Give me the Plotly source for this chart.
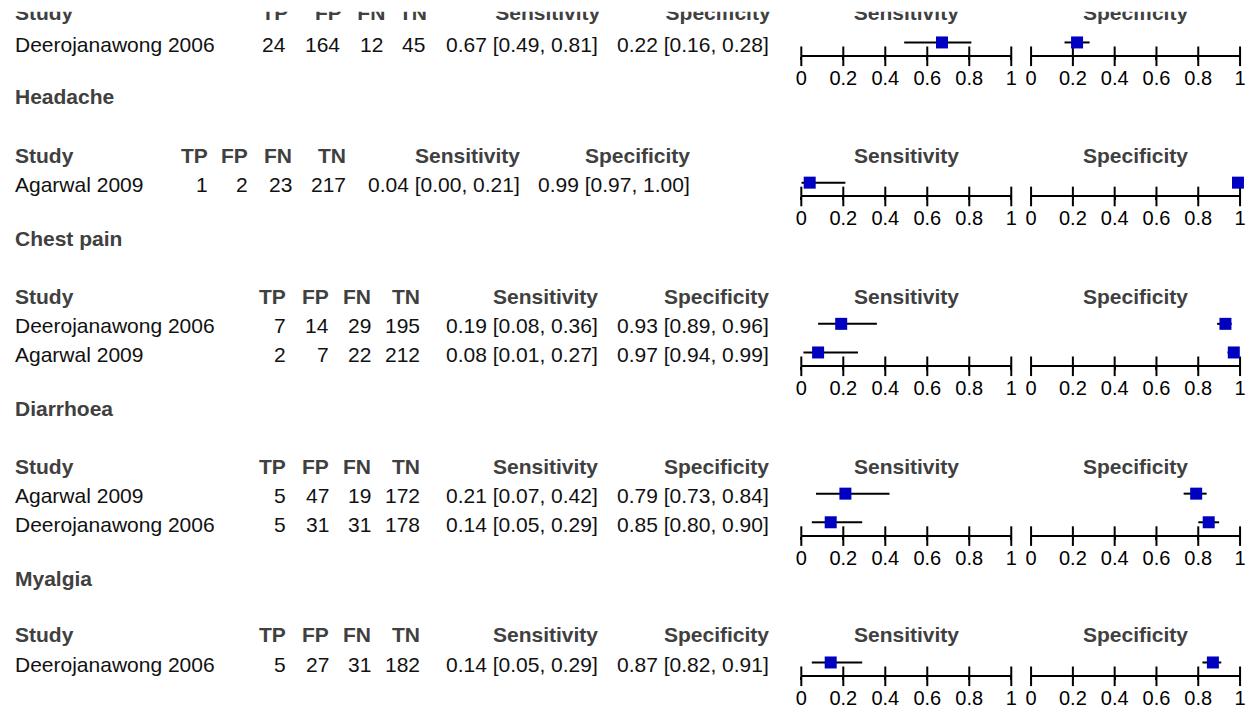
import plotly.graph_objects as go

W, H = 1252, 709

# ---------------- data ----------------
sections = ["", "Headache", "Chest pain", "Diarrhoea", "Myalgia"]
row_block = [0, 1, 2, 2, 3, 3, 4]
study = ["Deerojanawong 2006", "Agarwal 2009", "Deerojanawong 2006", "Agarwal 2009",
         "Agarwal 2009", "Deerojanawong 2006", "Deerojanawong 2006"]
tp = [24, 1, 7, 2, 5, 5, 5]
fp = [164, 2, 14, 7, 47, 31, 27]
fn = [12, 23, 29, 22, 19, 31, 31]
tn = [45, 217, 195, 212, 172, 178, 182]
sens = [0.67, 0.04, 0.19, 0.08, 0.21, 0.14, 0.14]
sens_lo = [0.49, 0.00, 0.08, 0.01, 0.07, 0.05, 0.05]
sens_hi = [0.81, 0.21, 0.36, 0.27, 0.42, 0.29, 0.29]
spec = [0.22, 0.99, 0.93, 0.97, 0.79, 0.85, 0.87]
spec_lo = [0.16, 0.97, 0.89, 0.94, 0.73, 0.80, 0.82]
spec_hi = [0.28, 1.00, 0.96, 0.99, 0.84, 0.90, 0.91]
col_headers = ["TP", "FP", "FN", "TN", "Sensitivity", "Specificity"]
plot_headers = ["Sensitivity", "Specificity"]
tick_vals = [0, 0.2, 0.4, 0.6, 0.8, 1]
tick_text = ["0", "0.2", "0.4", "0.6", "0.8", "1"]

# ---------------- layout constants (pixels) ----------------
HEADER_Y = [15, 157, 300, 472, 643]
TITLE_Y = [None, 98, 242, 414, 586]
ROW_OFF, ROW_PITCH = 30, 29      # text rows below the header
MARK_DY = -2                     # markers sit slightly above the text centre
AXIS_OFF = 14                    # axis line below the last marker
COLS = [
    [285, 339, 383, 425, 600, 772],
    [206, 246, 291, 345, 521, 693],
    [285, 328, 371, 420, 600, 772],
    [285, 328, 371, 420, 600, 772],
    [285, 328, 371, 420, 600, 772],
]
STUDY_X = 7
SENS_DOM = (803, 1015)
SPEC_DOM = (1035, 1246)
FONT = "Liberation Sans, Arial, sans-serif"
FS = 21
HEAD_COL = "#404040"
TXT_COL = "#111111"
BLUE = "#0000C0"

# row positions
text_y = []
counts = {}
for b in row_block:
    k = counts.get(b, 0)
    text_y.append(HEADER_Y[b] + ROW_OFF + k * ROW_PITCH)
    counts[b] = k + 1
mark_y = [y + MARK_DY for y in text_y]
axis_y = []
for b in range(len(sections)):
    ys = [mark_y[i] for i in range(len(mark_y)) if row_block[i] == b]
    axis_y.append(max(ys) + AXIS_OFF)

fig = go.Figure()
layout = dict(
    width=W, height=H, margin=dict(l=0, r=0, t=0, b=0),
    paper_bgcolor="white", plot_bgcolor="rgba(0,0,0,0)",
    showlegend=False,
    yaxis=dict(range=[H, 0], domain=[0, 1], visible=False, fixedrange=True),
)

def axname(n):
    return "x" if n == 1 else f"x{n}"

def laykey(n):
    return "xaxis" if n == 1 else f"xaxis{n}"

nb = len(sections)
for b in range(nb):
    idx = [i for i in range(len(mark_y)) if row_block[i] == b]
    for j, (vals, lo, hi, dom) in enumerate([(sens, sens_lo, sens_hi, SENS_DOM),
                                             (spec, spec_lo, spec_hi, SPEC_DOM)]):
        n = 2 * b + 1 + j
        pos = 1 - axis_y[b] / H
        ax = dict(domain=[dom[0] / W, dom[1] / W], range=[0, 1], anchor="free",
                  position=pos, showgrid=False, zeroline=False, fixedrange=True,
                  tickvals=tick_vals, ticktext=tick_text,
                  showline=True, linewidth=2, linecolor="black",
                  ticks="outside", ticklen=3, tickwidth=2, tickcolor="black",
                  ticklabelstandoff=1,
                  tickfont=dict(family=FONT, size=20, color="black"))
        if n > 2:
            ax["overlaying"] = axname(1 + j)
        layout[laykey(n)] = ax
        # tick marks crossing the axis line
        fig.add_trace(go.Scatter(
            x=tick_vals, y=[axis_y[b]] * len(tick_vals), mode="markers",
            xaxis=axname(n), yaxis="y", cliponaxis=False, hoverinfo="skip",
            marker=dict(symbol="line-ns", size=14, color="black",
                        line=dict(width=2, color="black"))))
        # point estimates with 95% CI
        fig.add_trace(go.Scatter(
            x=[vals[i] for i in idx], y=[mark_y[i] for i in idx],
            mode="markers", xaxis=axname(n), yaxis="y", cliponaxis=False,
            marker=dict(symbol="square", size=12, color=BLUE, line=dict(width=0)),
            error_x=dict(type="data", symmetric=False,
                         array=[hi[i] - vals[i] for i in idx],
                         arrayminus=[vals[i] - lo[i] for i in idx],
                         thickness=2, width=0, color="black"),
            hoverinfo="skip"))

# pixel x-axis for the top (cropped) header row, drawn as a text trace
npx = 2 * nb + 1
layout[laykey(npx)] = dict(domain=[0, 1], range=[0, W], anchor="y", visible=False,
                           fixedrange=True)

annotations = []

def ann(x, y, text, anchor, bold=False, color=TXT_COL, size=FS):
    annotations.append(dict(
        x=x / W, y=y, xref="paper", yref="y", text=text, showarrow=False,
        xanchor=anchor, yanchor="middle",
        font=dict(family=FONT, size=size, color=color, weight="bold" if bold else "normal")))

for b in range(nb):
    cols = COLS[b]
    hy = HEADER_Y[b]
    if TITLE_Y[b] is not None:
        ann(STUDY_X, TITLE_Y[b], sections[b], "left", bold=True, color=HEAD_COL)
    hx = [STUDY_X + 2] + cols + [(SENS_DOM[0] + SENS_DOM[1]) / 2, (SPEC_DOM[0] + SPEC_DOM[1]) / 2]
    ht = ["Study"] + col_headers + plot_headers
    hp = ["middle right"] + ["middle left"] * len(col_headers) + ["middle center"] * 2
    if b == 0:
        fig.add_trace(go.Scatter(
            x=hx, y=[hy] * len(hx), text=ht, mode="text", textposition=hp,
            xaxis=axname(npx), yaxis="y", cliponaxis=False, hoverinfo="skip",
            textfont=dict(family=FONT, size=FS, color=HEAD_COL, weight="bold")))
    else:
        anchors = ["left"] + ["right"] * len(col_headers) + ["center"] * 2
        hx[0] = STUDY_X
        for x, t, a in zip(hx, ht, anchors):
            ann(x, hy, t, a, bold=True, color=HEAD_COL)
    for i in range(len(text_y)):
        if row_block[i] != b:
            continue
        y = text_y[i]
        ann(STUDY_X, y, study[i], "left")
        cells = [str(tp[i]), str(fp[i]), str(fn[i]), str(tn[i]),
                 f"{sens[i]:.2f} [{sens_lo[i]:.2f}, {sens_hi[i]:.2f}]",
                 f"{spec[i]:.2f} [{spec_lo[i]:.2f}, {spec_hi[i]:.2f}]"]
        for x, t in zip(cols, cells):
            ann(x, y, t, "right")

layout["annotations"] = annotations
# the reference image is cropped just above the first table row
layout["shapes"] = [dict(type="rect", xref="paper", yref="y", x0=0, x1=1, y0=-20, y1=12,
                         fillcolor="white", line=dict(width=0), layer="above")]
fig.update_layout(**layout)
fig.write_html("out.html")
